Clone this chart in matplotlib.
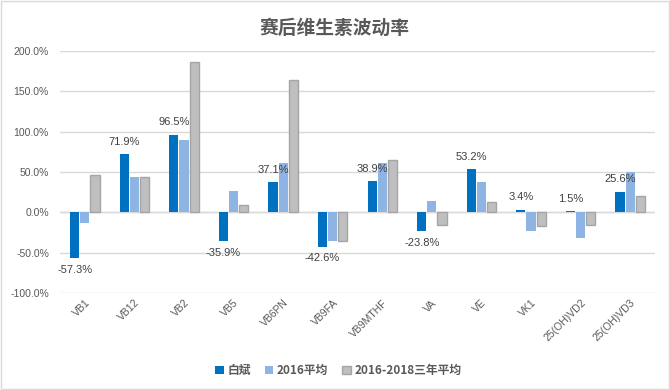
import numpy as np
import matplotlib
matplotlib.use("Agg")
import matplotlib.pyplot as plt
from matplotlib.ticker import FuncFormatter

plt.rcParams['font.family'] = ['Noto Sans CJK SC', 'DejaVu Sans']

# ---------------- DATA ----------------
categories = ["VB1", "VB12", "VB2", "VB5", "VB6PN", "VB9FA", "VB9MTHF",
              "VA", "VE", "VK1", "25(OH)VD2", "25(OH)VD3"]
baibin = [-57.3, 71.9, 96.5, -35.9, 37.1, -42.6, 38.9, -23.8, 53.2, 3.4, 1.5, 25.6]
avg_2016 = [-12.8, 44.3, 90.3, 26.9, 61.7, -35.6, 61.7, 14.1, 38.1, -23.2, -31.9, 50.5]
avg_3yr = [46.4, 44.0, 186.8, 9.5, 164.4, -35.2, 65.0, -15.3, 12.8, -17.0, -15.3, 20.7]
series_names = ["白斌", "2016平均", "2016-2018三年平均"]

# ---------------- PLOT ----------------
fig = plt.figure(figsize=(6.7, 3.9), dpi=100)
ax = fig.add_axes([0.0896, 0.249, 0.888, 0.620])

x = np.arange(len(categories))
w = 0.185
off = 0.205
ax.bar(x - off, baibin, w, color="#0070C0", label=series_names[0], zorder=3)
ax.bar(x, avg_2016, w, color="#8DB4E2", label=series_names[1], zorder=3)
ax.bar(x + off, avg_3yr, w, color="#BFBFBF", edgecolor="#A5A5A5",
       linewidth=1.0, label=series_names[2], zorder=3)

# data labels on the first series
for xi, v in zip(x, baibin):
    if v >= 0:
        ax.text(xi - off, v + 9, f"{v:.1f}%", ha="center", va="bottom",
                fontsize=8, color="#404040", family="Liberation Sans", zorder=4)
    else:
        ax.text(xi - off, v - 8, f"{v:.1f}%", ha="center", va="top",
                fontsize=8, color="#404040", family="Liberation Sans", zorder=4)

ax.set_xlim(-0.5, len(categories) - 0.5)
ax.set_ylim(-100, 200)
ax.set_yticks(np.arange(-100, 201, 50))
ax.yaxis.set_major_formatter(FuncFormatter(lambda v, p: f"{v:.1f}%"))
ax.grid(axis="y", color="#D9D9D9", linewidth=1.0, zorder=0)
for s in ax.spines.values():
    s.set_visible(False)
ax.axhline(0, color="#D9D9D9", linewidth=1.0, zorder=2)
ax.tick_params(axis="both", length=0, labelsize=7.5, labelcolor="#595959")
ax.tick_params(axis="y", pad=8)
ax.set_xticks(x)
ax.set_xticklabels(categories, rotation=45, ha="right", rotation_mode="anchor",
                   family="Liberation Sans")
for lbl in ax.get_yticklabels():
    lbl.set_family("Liberation Sans")

fig.text(0.5, 0.928, "赛后维生素波动率", ha="center", va="center",
         fontsize=13.5, fontweight="bold", color="#595959")

leg = fig.legend(loc="center", bbox_to_anchor=(0.505, 0.05), ncol=3,
                 frameon=False, fontsize=8.5, handlelength=0.7, handleheight=0.7,
                 handletextpad=0.3, columnspacing=1.2)
for t in leg.get_texts():
    t.set_color("#595959")
    t.set_fontweight("bold")

# outer border like the chart area
fig.patches.append(plt.Rectangle((0.002, 0.003), 0.996, 0.994, transform=fig.transFigure,
                                 fill=False, edgecolor="#D9D9D9", linewidth=1.0))

fig.savefig("out.png", dpi=100)
